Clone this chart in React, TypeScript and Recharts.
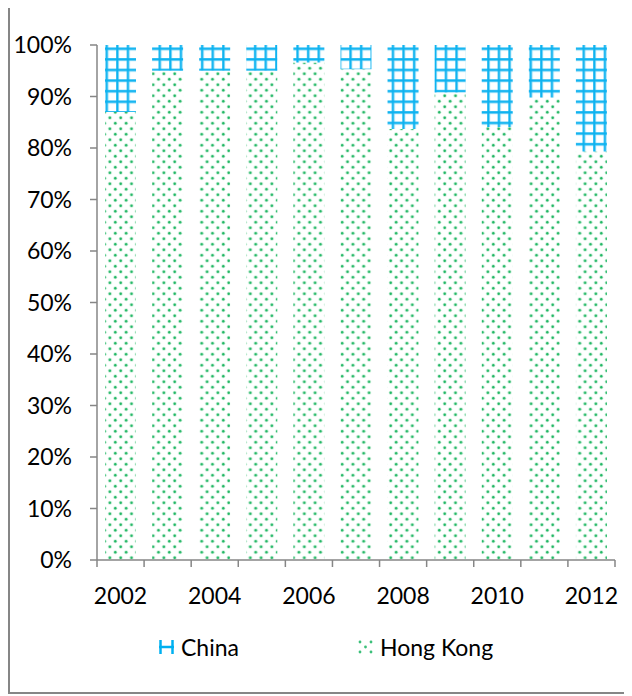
import { BarChart, Bar, XAxis, YAxis, Legend } from 'recharts'

const years = ['2002', '2003', '2004', '2005', '2006', '2007', '2008', '2009', '2010', '2011', '2012']
const labelledYears = ['2002', '2004', '2006', '2008', '2010', '2012']
const hongKong = [87, 95, 95, 95, 96.6, 95.3, 83.7, 90.8, 84.1, 89.8, 79.3]
const china = [13, 5, 5, 5, 3.4, 4.7, 16.3, 9.2, 15.9, 10.2, 20.7]
const percentTicks = [0, 10, 20, 30, 40, 50, 60, 70, 80, 90, 100]

const data = years.map((year, i) => ({ year, hongKong: hongKong[i], china: china[i] }))

const W = 616
const H = 687
const AXIS = '#868686'
const FONT = 'Lato, "Open Sans", sans-serif'
const PLOT_LEFT = 87
const PLOT_RIGHT = 605
const BAND = (PLOT_RIGHT - PLOT_LEFT) / years.length

// category ticks sit on the band edges, labels only on every other year
const YearTick = ({ x, y, payload }: any) => {
  const i = years.indexOf(payload.value)
  const edge = x - BAND / 2
  return (
    <g>
      <line x1={edge} x2={edge} y1={y} y2={y + 7} stroke={AXIS} strokeWidth={1.5} />
      {i === years.length - 1 && (
        <line x1={x + BAND / 2} x2={x + BAND / 2} y1={y} y2={y + 7} stroke={AXIS} strokeWidth={1.5} />
      )}
      {labelledYears.includes(payload.value) && (
        <text x={x} y={y + 44} textAnchor="middle" fontFamily={FONT} fontSize={23} fill="#000">
          {payload.value}
        </text>
      )}
    </g>
  )
}

const GridIcon = () => (
  <svg width={15} height={14}>
    <line x1={1.5} x2={1.5} y1={0} y2={14} stroke="#00B0F0" strokeWidth={2.5} />
    <line x1={13.5} x2={13.5} y1={0} y2={14} stroke="#00B0F0" strokeWidth={2.5} />
    <line x1={0} x2={15} y1={7} y2={7} stroke="#00B0F0" strokeWidth={2.5} />
  </svg>
)

const DotIcon = () => (
  <svg width={15} height={14}>
    {[[2, 2], [13, 2], [7.5, 7], [2, 12], [13, 12]].map(([cx, cy], k) => (
      <circle key={k} cx={cx} cy={cy} r={1.4} fill="#3cc07a" />
    ))}
  </svg>
)

const legendItems = [
  { name: 'China', left: 149, icon: <GridIcon /> },
  { name: 'Hong Kong', left: 348, icon: <DotIcon /> },
]

const renderLegend = () => (
  <div style={{ position: 'relative', height: 40, width: W }}>
    {legendItems.map((item) => (
      <div
        key={item.name}
        style={{
          position: 'absolute',
          left: item.left,
          top: 0,
          height: 40,
          display: 'flex',
          alignItems: 'center',
          gap: 7,
          fontFamily: FONT,
          fontSize: 23,
          color: '#000',
        }}
      >
        {item.icon}
        <span>{item.name}</span>
      </div>
    ))}
  </div>
)

export default function App() {
  return (
    <div
      style={{
        marginTop: -5,
        width: 620,
        height: 691,
        boxSizing: 'border-box',
        border: `2px solid ${AXIS}`,
        background: '#fff',
      }}
    >
      <BarChart width={W} height={H} data={data} margin={{ top: 40, right: 11, left: 0, bottom: 32 }}>
        <defs>
          <pattern id="chinaGrid" patternUnits="userSpaceOnUse" width={10.6} height={10.6}>
            <rect width={10.6} height={10.6} fill="#fff" />
            <path d="M1.3 0V10.6M0 1.3H10.6" stroke="#a8e3f9" strokeWidth={3.6} />
            <path d="M1.3 0V10.6M0 1.3H10.6" stroke="#0bb2f0" strokeWidth={2} />
          </pattern>
          <pattern id="hkDots" patternUnits="userSpaceOnUse" width={10.8} height={11}>
            <rect width={10.8} height={11} fill="#fff" />
            <circle cx={2.7} cy={2.75} r={2} fill="#c6eed6" />
            <circle cx={8.1} cy={8.25} r={2} fill="#c6eed6" />
            <circle cx={2.7} cy={2.75} r={1.2} fill="#22b765" />
            <circle cx={8.1} cy={8.25} r={1.2} fill="#22b765" />
          </pattern>
        </defs>
        <XAxis
          dataKey="year"
          interval={0}
          height={60}
          tickSize={0}
          tickMargin={0}
          tickLine={false}
          axisLine={{ stroke: AXIS, strokeWidth: 1.5 }}
          tick={<YearTick />}
        />
        <YAxis
          domain={[0, 100]}
          ticks={percentTicks}
          interval={0}
          width={87}
          tickSize={7}
          tickMargin={18}
          tickFormatter={(v: number) => `${v}%`}
          axisLine={{ stroke: AXIS, strokeWidth: 1.5 }}
          tickLine={{ stroke: AXIS, strokeWidth: 1.5 }}
          tick={{ fontFamily: FONT, fontSize: 23, fill: '#000' }}
        />
        <Legend
          content={renderLegend}
          wrapperStyle={{ top: 622, bottom: 'auto', left: 0, width: W, height: 40 }}
        />
        <Bar dataKey="hongKong" name="Hong Kong" stackId="share" barSize={31} fill="url(#hkDots)" isAnimationActive={false} />
        <Bar dataKey="china" name="China" stackId="share" barSize={31} fill="url(#chinaGrid)" isAnimationActive={false} />
      </BarChart>
    </div>
  )
}
